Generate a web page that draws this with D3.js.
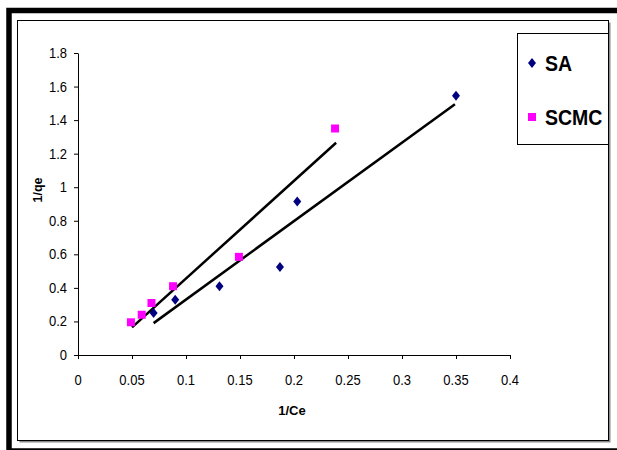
<!DOCTYPE html>
<html lang="en">
<head>
<meta charset="utf-8">
<title>1/qe vs 1/Ce</title>
<script src="https://cdn.jsdelivr.net/npm/d3@7"></script>
<style>
    body { margin: 0; background: #fff; }
    text { font-family: "Liberation Sans", Arial, sans-serif; fill: #000; }
</style>
</head>
<body>
<script>
// data
var saX = [0.07, 0.09, 0.131, 0.187, 0.203, 0.35];
var saY = [0.25, 0.33, 0.41, 0.525, 0.915, 1.545];
var scmcX = [0.049, 0.059, 0.068, 0.088, 0.149, 0.238];
var scmcY = [0.195, 0.24, 0.31, 0.41, 0.585, 1.35];
// trend line end points
var saFitX = [0.07, 0.349];
var saFitY = [0.19, 1.495];
var scmcFitX = [0.05, 0.239];
var scmcFitY = [0.165, 1.265];
var xTicks = [0, 0.05, 0.1, 0.15, 0.2, 0.25, 0.3, 0.35, 0.4];
var xTickLabels = ["0", "0.05", "0.1", "0.15", "0.2", "0.25", "0.3", "0.35", "0.4"];
var yTicks = [0, 0.2, 0.4, 0.6, 0.8, 1, 1.2, 1.4, 1.6, 1.8];
var yTickLabels = ["0", "0.2", "0.4", "0.6", "0.8", "1", "1.2", "1.4", "1.6", "1.8"];
var seriesNames = ["SA", "SCMC"];
var seriesColors = ["#000080", "#ff00ff"];

var w = 617, h = 450;
var svg = d3.select("body").append("svg").attr("width", w).attr("height", h);

// outer thick border (cut off on right and bottom)
svg.append("rect")
    .attr("x", 9).attr("y", 10.5).attr("width", 620).attr("height", 440.5)
    .attr("fill", "none").attr("stroke", "#000").attr("stroke-width", 5.5);

// chart frame with shadow
svg.append("rect")
    .attr("x", 19.5).attr("y", 22.5).attr("width", 591).attr("height", 420)
    .attr("fill", "#8a8a8a");
svg.append("rect")
    .attr("x", 17.5).attr("y", 20.5).attr("width", 591).attr("height", 420)
    .attr("fill", "#fff").attr("stroke", "#000").attr("stroke-width", 1);

var x = d3.scaleLinear().domain([0, 0.4]).range([78, 510]);
var y = d3.scaleLinear().domain([0, 1.8]).range([355, 53]);

// axes (lines and ticks from d3, labels drawn below so they can be stretched a bit)
var xAxis = svg.append("g").attr("transform", "translate(0," + y(0) + ")")
    .call(d3.axisBottom(x).tickValues(xTicks).tickSize(4).tickSizeOuter(0).tickFormat(""));
var yAxis = svg.append("g").attr("transform", "translate(" + x(0) + ",0)")
    .call(d3.axisLeft(y).tickValues(yTicks).tickSize(4).tickSizeOuter(0).tickFormat(""));
[xAxis, yAxis].forEach(function(a) {
    a.selectAll("path, line").attr("stroke", "#000");
});

svg.selectAll(".xlab").data(xTicks).enter().append("text")
    .attr("class", "xlab")
    .text(function(d, i) { return xTickLabels[i]; })
    .attr("text-anchor", "middle").attr("font-size", 13)
    .attr("transform", function(d) { return "translate(" + x(d) + ",385) scale(1,1.08)"; });
svg.selectAll(".ylab").data(yTicks).enter().append("text")
    .attr("class", "ylab")
    .text(function(d, i) { return yTickLabels[i]; })
    .attr("text-anchor", "end").attr("font-size", 13)
    .attr("transform", function(d) { return "translate(67," + (y(d) + 5) + ") scale(1,1.08)"; });

// axis titles
svg.append("text").text("1/Ce")
    .attr("x", 292).attr("y", 415).attr("text-anchor", "middle")
    .attr("font-size", 13).attr("font-weight", "bold");
svg.append("text").text("1/qe")
    .attr("transform", "translate(42,190) rotate(-90)").attr("text-anchor", "middle")
    .attr("font-size", 12.5).attr("font-weight", "bold");

// trend lines
var line = d3.line().x(function(d) { return x(d[0]); }).y(function(d) { return y(d[1]); });
svg.append("path").datum(d3.zip(saFitX, saFitY)).attr("d", line)
    .attr("fill", "none").attr("stroke", "#000").attr("stroke-width", 2.5);
svg.append("path").datum(d3.zip(scmcFitX, scmcFitY)).attr("d", line)
    .attr("fill", "none").attr("stroke", "#000").attr("stroke-width", 2.5);

var diamond = "M0,-5L4,0L0,5L-4,0Z";
var square = "M-4,-4H4V4H-4Z";

svg.selectAll(".sa").data(d3.zip(saX, saY)).enter().append("path")
    .attr("class", "sa").attr("d", diamond).attr("fill", seriesColors[0])
    .attr("transform", function(d) { return "translate(" + x(d[0]) + "," + y(d[1]) + ")"; });
svg.selectAll(".scmc").data(d3.zip(scmcX, scmcY)).enter().append("path")
    .attr("class", "scmc").attr("d", square).attr("fill", seriesColors[1])
    .attr("transform", function(d) { return "translate(" + x(d[0]) + "," + y(d[1]) + ")"; });

// legend
svg.append("rect").attr("x", 517.5).attr("y", 33.5).attr("width", 91).attr("height", 111)
    .attr("fill", "#fff").attr("stroke", "#000").attr("stroke-width", 1);
var leg = svg.selectAll(".leg").data(seriesNames).enter().append("g")
    .attr("class", "leg")
    .attr("transform", function(d, i) { return "translate(532," + (63 + i * 54) + ")"; });
leg.append("path").attr("d", function(d, i) { return i == 0 ? diamond : square; })
    .attr("fill", function(d, i) { return seriesColors[i]; });
leg.append("text").text(function(d) { return d; })
    .attr("transform", "translate(13,7.5) scale(1,1.12)")
    .attr("font-size", 19.5).attr("font-weight", "bold");
</script>
</body>
</html>
